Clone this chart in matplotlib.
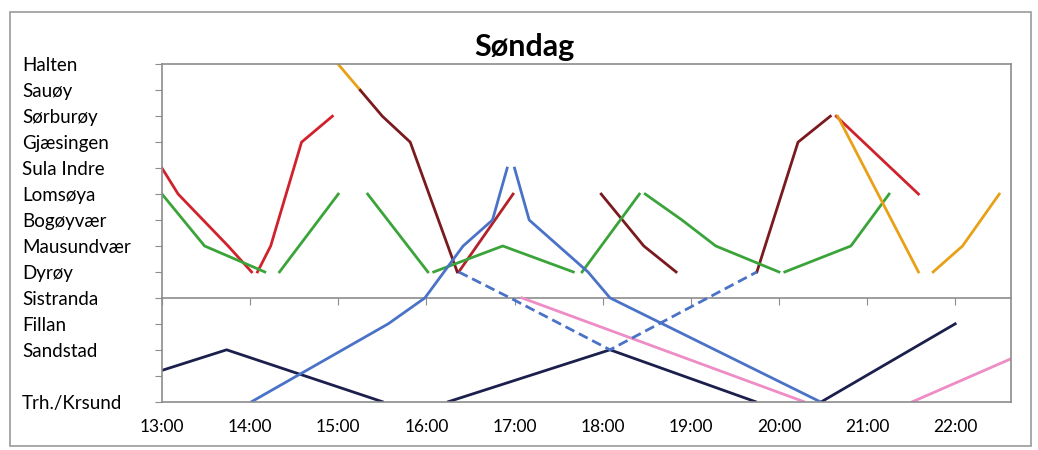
import matplotlib.pyplot as plt
from matplotlib.patches import Rectangle

plt.rcParams['font.family'] = ['Lato', 'DejaVu Sans']

# stoppesteder, ovenfra og ned (tom plass = umerket linje)
stations = ["Halten", "Sauøy", "Sørburøy", "Gjæsingen", "Sula Indre", "Lomsøya",
            "Bogøyvær", "Mausundvær", "Dyrøy", "Sistranda", "Fillan", "Sandstad",
            "", "Trh./Krsund"]
hours = ["13:00", "14:00", "15:00", "16:00", "17:00", "18:00", "19:00",
         "20:00", "21:00", "22:00"]

# avganger (klokkeslett, stopp)
red_1 = [("13:00", "Sula Indre"), ("13:11", "Lomsøya"), ("13:45", "Mausundvær"), ("14:01", "Dyrøy")]
red_2 = [("14:05", "Dyrøy"), ("14:14", "Mausundvær"), ("14:35", "Gjæsingen"), ("14:56", "Sørburøy")]
red_3 = [("16:22", "Dyrøy"), ("16:59", "Lomsøya")]
red_4 = [("20:39", "Sørburøy"), ("21:35", "Lomsøya")]

maroon_1 = [("15:15", "Sauøy"), ("15:30", "Sørburøy"), ("15:49", "Gjæsingen"), ("16:21", "Dyrøy")]
maroon_2 = [("17:59", "Lomsøya"), ("18:28", "Mausundvær"), ("18:50", "Dyrøy")]
maroon_3 = [("19:45", "Dyrøy"), ("20:13", "Gjæsingen"), ("20:35", "Sørburøy")]

orange_1 = [("15:00", "Halten"), ("15:15", "Sauøy")]
orange_2 = [("20:40", "Sørburøy"), ("21:35", "Dyrøy")]
orange_3 = [("21:45", "Dyrøy"), ("22:05", "Mausundvær"), ("22:30", "Lomsøya")]

green_1 = [("13:00", "Lomsøya"), ("13:29", "Mausundvær"), ("14:10", "Dyrøy")]
green_2 = [("14:20", "Dyrøy"), ("15:00", "Lomsøya")]
green_3 = [("15:20", "Lomsøya"), ("16:01", "Dyrøy")]
green_4 = [("16:05", "Dyrøy"), ("16:52", "Mausundvær"), ("17:40", "Dyrøy")]
green_5 = [("17:46", "Dyrøy"), ("18:25", "Lomsøya")]
green_6 = [("18:29", "Lomsøya"), ("18:54", "Bogøyvær"), ("19:17", "Mausundvær"), ("20:00", "Dyrøy")]
green_7 = [("20:04", "Dyrøy"), ("20:49", "Mausundvær"), ("21:15", "Lomsøya")]

blue_1 = [("14:01", "Trh./Krsund"), ("15:34", "Fillan"), ("15:59", "Sistranda"),
          ("16:25", "Mausundvær"), ("16:45", "Bogøyvær"), ("16:55", "Sula Indre")]
blue_2 = [("17:00", "Sula Indre"), ("17:10", "Bogøyvær"), ("17:50", "Dyrøy"),
          ("18:05", "Sistranda"), ("20:28", "Trh./Krsund")]
blue_dash = [("16:22", "Dyrøy"), ("16:57", "Sistranda"), ("18:05", "Sandstad"), ("19:45", "Dyrøy")]

navy_1 = [("11:53", "Trh./Krsund"), ("13:44", "Sandstad"), ("15:30", "Trh./Krsund")]
navy_2 = [("16:15", "Trh./Krsund"), ("18:05", "Sandstad"), ("19:44", "Trh./Krsund")]
navy_3 = [("20:29", "Trh./Krsund"), ("22:00", "Fillan")]

pink_1 = [("17:05", "Sistranda"), ("20:17", "Trh./Krsund")]
pink_2 = [("21:31", "Trh./Krsund"), ("22:52", "Sandstad")]


def hrs(s):
    h, m = s.split(":")
    return int(h) + int(m) / 60


level = {name: i for i, name in enumerate(stations) if name}

RED = "#d0222c"
MAROON = "#7a1a1e"
ORANGE = "#e8a117"
GREEN = "#3aa43a"
BLUE = "#4a72c6"
NAVY = "#1b1f4c"
PINK = "#ee8cc6"
GRAY = "#8c8c8c"

routes = [
    (red_1, RED, "-"), (red_2, RED, "-"), (red_3, "#b3222a", "-"), (red_4, RED, "-"),
    (orange_1, ORANGE, "-"), (maroon_1, MAROON, "-"), (maroon_2, MAROON, "-"), (maroon_3, MAROON, "-"),
    (green_1, GREEN, "-"), (green_2, GREEN, "-"), (green_3, GREEN, "-"), (green_4, GREEN, "-"),
    (green_5, GREEN, "-"), (green_6, GREEN, "-"), (green_7, GREEN, "-"),
    (orange_2, ORANGE, "-"), (orange_3, ORANGE, "-"),
    (navy_1, NAVY, "-"), (navy_2, NAVY, "-"), (navy_3, NAVY, "-"),
    (pink_1, PINK, "-"), (pink_2, PINK, "-"),
    (blue_1, BLUE, "-"), (blue_2, BLUE, "-"), (blue_dash, BLUE, (0, (3.6, 1.8))),
]

fig = plt.figure(figsize=(10.38, 4.5), dpi=100)
ax = fig.add_axes([162 / 1038, 1 - 401.7 / 450, (1011 - 162) / 1038, (401.7 - 64.3) / 450])

for route, color, style in routes:
    ax.plot([hrs(t) for t, _ in route], [level[s] for _, s in route],
            color=color, lw=2, ls=style)

ax.set_xlim(13, hrs("22:38"))
ax.set_ylim(13, 0)

ax.set_yticks(range(len(stations)), stations)
ax.tick_params(axis="y", direction="out", length=5, color=GRAY, pad=95.8, labelsize=13.5)
for lab in ax.get_yticklabels():
    lab.set_horizontalalignment("left")

ax.set_xticks([hrs(h) for h in hours], hours)
ax.tick_params(axis="x", length=0, pad=12.5, labelsize=12.5)

for sp in ax.spines.values():
    sp.set_color(GRAY)
    sp.set_linewidth(1.2)

# x-aksen krysser ved Sistranda
sec = ax.secondary_xaxis((13 - level["Sistranda"]) / 13)
sec.set_xticks([hrs(h) for h in hours])
sec.tick_params(direction="out", length=5, color=GRAY, labelbottom=False, labeltop=False)
for sp in sec.spines.values():
    sp.set_color(GRAY)
    sp.set_linewidth(1.2)

fig.text(524 / 1038, 1 - 47 / 450, "Søndag", ha="center", va="center",
         fontsize=22, fontweight="bold")

fig.add_artist(Rectangle((10 / 1038, 1 - 446 / 450), (1031 - 10) / 1038, (446 - 12) / 450,
                         transform=fig.transFigure, fill=False, edgecolor="#9a9a9a", lw=1.2))

fig.savefig("out.png", dpi=100)
